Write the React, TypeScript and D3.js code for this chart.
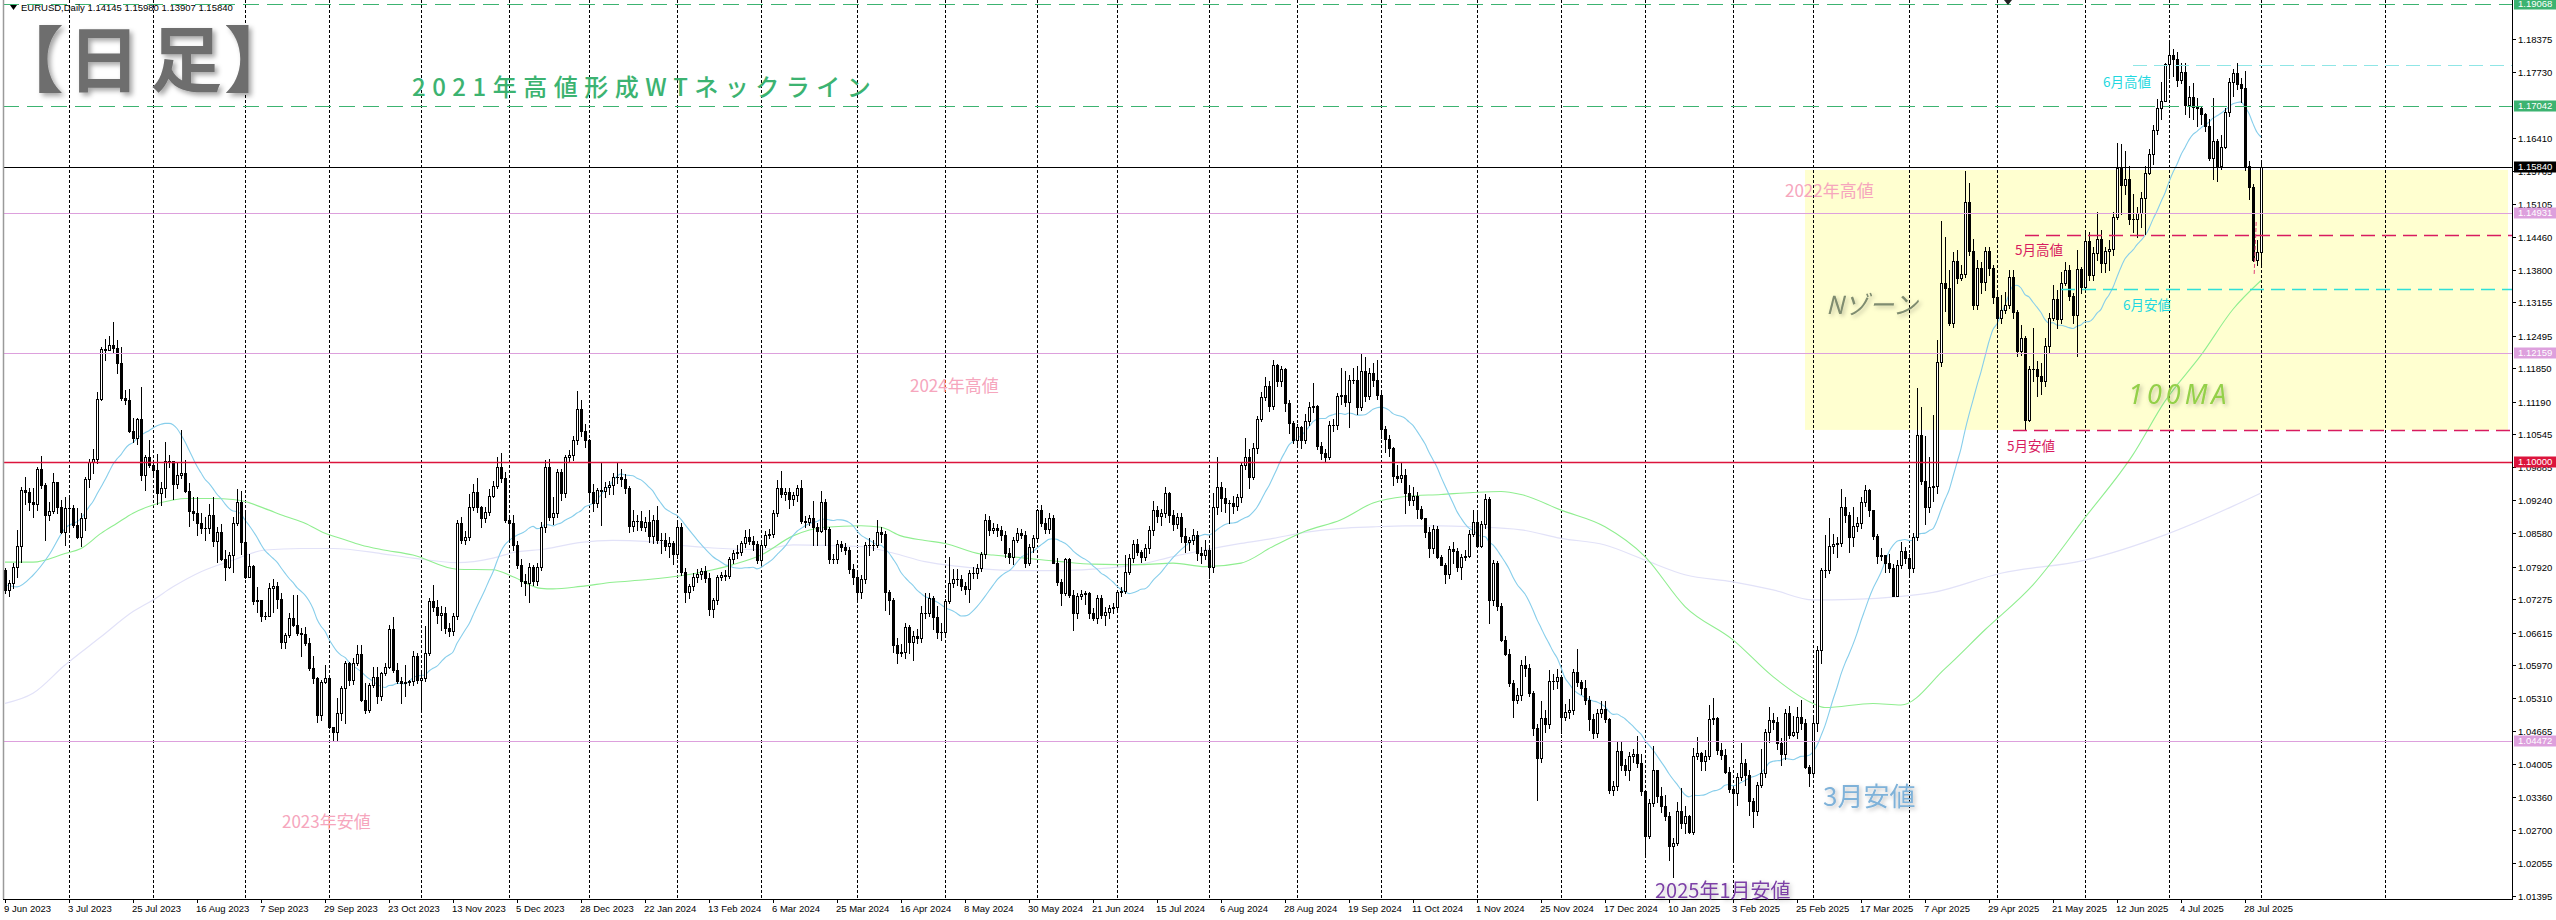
import React, { useMemo } from "react";
import * as d3 from "d3";

const W = 2556;
const H = 920;
const PLOT_L = 3;
const PLOT_R = 2512;
const PLOT_B = 899;

// Daily bars, values in pips above 1.0000 (price = 1 + v / 10000): [close, high, low]
// open of each bar = close of the previous bar
const firstOpen = 785;

const barsJun2023Oct2023 = [
  [746,789,739],[759,766,733],[792,799,749],[832,865,772],[944,950,802],[939,970,917],[921,947,904],[917,947,891],[985,990,904],[954,1012,947],
  [894,957,845],[903,921,884],[959,977,898],[911,960,898],[861,924,858],[909,931,835],[909,931,865],[875,914,871],[851,908,848],[888,898,832],
  [966,970,865],[1000,1006,950],[1006,1026,977],[1125,1138,997],[1224,1228,1122],[1222,1244,1201],[1231,1249,1221],[1226,1276,1218],[1195,1241,1175],[1127,1228,1122],
  [1123,1142,1115],[1061,1145,1059],[1047,1086,1040],[1084,1086,1036],[974,1148,964],[1010,1013,944],[993,1043,990],[983,1003,974],[937,1016,917],[947,960,914],
  [1002,1040,931],[1001,1014,990],[955,1002,927],[974,997,947],[978,1063,967],[942,1003,940],[903,957,873],[899,931,884],[878,931,855],[868,898,858],
  [868,891,845],[894,916,858],[843,931,832],[861,871,802],[807,876,805],[792,825,766],[816,822,789],[878,891,782],[921,945,875],[841,941,818],
  [772,898,769],[793,818,772],[723,795,719],[726,752,703],[694,726,685],[695,703,688],[749,759,703],[754,767,703],[727,762,710],[642,739,630],
  [657,660,630],[690,700,653],[677,736,675],[660,736,657],[658,670,614],[640,673,636],[591,650,587],[571,614,561],[498,574,485],[564,568,488],
  [571,597,561],[475,568,472],[464,475,446],[502,531,449],[551,556,488],[601,606,482],[568,603,557],[601,611,560],[618,637,597],[528,637,525],
  [507,561,502],[558,561,505],[574,594,554],[536,594,521],
];

const barsOct2023Feb2024 = [
  [581,584,528],[593,601,578],[668,677,591],[588,693,584],[565,601,561],[561,574,522],[563,597,535],[565,568,558],[615,624,558],[568,620,562],
  [571,584,508],[621,674,565],[724,729,616],[713,756,705],[697,726,680],[701,715,667],[670,712,660],[664,680,655],[695,700,657],[878,885,688],
  [844,891,838],[850,862,836],[911,935,845],[939,955,905],[910,967,900],[888,912,870],[901,910,880],[933,945,895],[952,962,930],[990,1009,948],
  [968,1017,960],[885,980,880],[878,895,840],[835,895,826],[796,842,790],[763,808,753],[759,778,735],[792,800,721],[763,795,756],[792,800,755],
  [871,880,785],[990,1003,860],[891,1005,885],[898,930,876],[979,985,890],[937,985,925],[1009,1013,930],[1013,1024,1000],[1042,1050,1003],[1104,1140,1035],
  [1060,1122,1050],[1043,1075,1030],[939,1045,925],[919,955,902],[943,948,910],[941,997,875],[949,960,930],[954,962,935],[970,978,935],[970,1000,958],
  [966,985,952],[947,975,938],[873,952,860],[883,905,862],[883,895,865],[871,903,865],[881,890,862],[852,905,840],[885,895,838],[845,912,838],
  [845,858,820],[832,858,825],[838,850,812],[817,842,798],[871,882,810],[782,879,776],[741,790,722],[753,758,730],[771,780,745],[778,788,762],
  [784,790,768],[770,793,762],[708,780,697],[726,730,693],[771,776,718],[776,782,765],[774,786,766],[807,812,770],[819,826,800],[822,835,810],
  [838,842,815],[850,865,830],[842,866,836],[836,853,825],[805,842,800],
];

const barsMar2024Jul2024 = [
  [835,840,796],[855,862,830],[857,866,848],[898,905,850],[947,963,892],[936,982,930],[940,948,925],[926,948,908],[934,940,915],[947,953,922],
  [883,964,878],[881,893,870],[888,895,875],[871,923,835],[863,878,835],[921,941,860],[866,926,835],[807,870,800],[807,818,800],[837,845,800],
  [830,842,823],[825,838,818],[787,830,780],[772,797,758],[741,785,723],[767,776,730],[835,840,760],[835,848,815],[835,845,825],[860,885,830],
  [857,870,840],[741,863,706],[725,745,698],[637,730,622],[621,650,601],[623,638,614],[672,680,612],[642,676,620],[654,665,608],[650,668,640],
  [700,715,642],[700,740,690],[730,740,695],[692,733,668],[663,714,650],[663,680,647],[723,727,655],[760,812,720],[767,787,752],[767,788,756],
  [753,776,745],[747,762,737],[780,785,722],[780,792,770],[789,798,770],[817,822,784],[885,896,810],[865,893,855],[868,878,858],[865,876,852],
  [855,872,845],[820,862,812],[812,828,800],[845,850,798],[858,868,840],[855,866,848],[800,862,792],[830,836,796],[848,855,822],[904,906,842],
  [878,914,872],[866,888,858],[888,898,858],[800,895,799],[762,810,755],[739,768,716],[807,810,735],[736,810,732],[700,745,667],[734,740,690],
  [738,745,728],[739,744,718],[700,742,690],[690,710,686],[730,735,680],[696,735,690],[703,712,676],[710,716,690],[712,720,700],[741,746,708],
  [744,752,733],[782,815,740],[809,818,778],[837,845,802],[822,846,815],
];

const barsJul2024Nov2024 = [
  [812,825,802],[829,836,805],[865,872,820],[904,922,855],[893,912,880],[898,907,875],[937,949,890],[895,940,880],[877,905,865],[890,898,868],
  [852,898,840],[840,868,822],[844,850,826],[855,866,836],[819,862,805],[815,830,800],[825,845,808],[792,835,770],[910,938,782],[949,1010,897],
  [928,960,903],[919,947,900],[918,925,878],[912,932,898],[930,936,905],[994,1000,920],[1010,1046,985],[970,1025,948],[1027,1038,965],[1084,1090,1018],
  [1129,1138,1080],[1150,1168,1122],[1110,1160,1100],[1192,1201,1105],[1159,1194,1150],[1183,1190,1149],[1117,1185,1100],[1076,1122,1057],[1043,1080,1038],[1068,1074,1035],
  [1042,1070,1027],[1081,1095,1038],[1109,1119,1073],[1110,1155,1098],[1031,1112,1026],[1018,1040,1005],[1010,1025,1002],[1073,1081,1006],[1073,1085,1060],[1130,1137,1065],
  [1132,1185,1115],[1119,1180,1110],[1161,1171,1068],[1162,1185,1155],[1109,1190,1095],[1180,1213,1102],[1130,1208,1120],[1175,1185,1125],[1162,1195,1150],[1132,1201,1125],
  [1065,1140,1046],[1044,1070,1020],[1027,1052,1012],[972,1030,954],[967,994,960],[974,998,960],[937,985,899],[924,953,915],[933,950,915],[906,940,888],
  [888,912,887],[860,888,851],[829,870,812],[867,874,820],[811,872,810],[796,815,795],[778,800,759],[827,833,769],[824,840,800],[792,828,783],
  [812,818,767],[813,826,805],[856,864,812],[881,904,853],[832,905,832],[877,882,830],[926,936,868],[725,930,681],[799,805,717],[714,803,706],
  [647,720,645],[619,655,617],[561,629,555],[528,567,495],[538,551,521],
];

const barsNov2024Mar2025 = [
  [597,607,528],[591,615,575],[541,600,535],[472,545,458],[413,480,330],[492,525,405],[481,507,465],[566,587,472],[566,580,550],[574,590,552],
  [495,578,462],[505,520,488],[508,530,492],[584,590,500],[564,628,556],[551,568,540],[527,568,520],[490,535,468],[462,500,452],[502,510,455],
  [510,525,495],[490,525,485],[350,492,343],[357,367,340],[426,446,350],[399,445,390],[389,410,380],[416,425,370],[421,430,405],[403,457,396],
  [347,420,340],[259,350,221],[323,332,255],[389,436,318],[337,390,325],[317,355,305],[298,340,290],[238,305,211],[244,255,178],[307,326,240],
  [284,353,275],[297,318,265],[267,300,264],[416,432,262],[422,455,410],[406,425,390],[416,428,389],[490,518,410],[492,531,480],[429,495,420],
  [419,442,410],[386,430,383],[351,395,345],[343,353,208],[376,383,320],[403,442,370],[380,410,360],[327,390,300],[307,333,277],[360,366,300],
  [383,430,355],[465,470,375],[488,513,445],[485,502,470],[442,495,430],[421,452,399],[502,509,410],[459,516,452],[465,497,457],[495,513,452],
  [483,528,470],[396,490,394],[383,400,358],[483,492,375],[627,634,467],[785,790,601],[785,855,772],[832,888,780],[836,856,820],[838,850,812],
  [910,945,832],[894,930,880],[851,900,821],[873,911,832],[879,890,862],[921,931,868],[944,954,912],[904,945,893],[853,905,846],[813,857,799],
  [815,828,806],[800,816,782],[789,818,782],[734,797,733],[795,805,733],
];

const barsMar2025Aug2025 = [
  [824,840,790],[809,830,800],[790,818,778],[851,858,781],[1052,1146,845],[962,1109,955],[910,1050,877],[949,1010,900],[952,1093,923],[1197,1241,938],
  [1355,1476,1190],[1345,1446,1298],[1275,1380,1271],[1397,1416,1266],[1363,1420,1355],[1372,1390,1360],[1514,1575,1365],[1417,1552,1410],[1310,1442,1302],[1384,1400,1302],
  [1356,1395,1335],[1417,1425,1340],[1384,1425,1370],[1326,1390,1315],[1285,1340,1265],[1300,1330,1275],[1311,1337,1295],[1366,1380,1305],[1296,1380,1285],[1220,1300,1210],
  [1245,1270,1212],[1083,1250,1065],[1184,1190,1080],[1184,1264,1160],[1169,1200,1130],[1160,1195,1135],[1230,1245,1150],[1285,1295,1215],[1323,1350,1280],[1283,1340,1265],
  [1355,1375,1275],[1379,1395,1350],[1328,1390,1320],[1290,1335,1275],[1381,1420,1210],[1346,1385,1335],[1438,1455,1340],[1370,1455,1360],[1414,1425,1360],[1442,1495,1400],
  [1393,1460,1375],[1417,1425,1375],[1421,1440,1380],[1485,1495,1410],[1581,1632,1480],[1548,1630,1490],[1560,1615,1530],[1480,1585,1470],[1480,1530,1455],[1493,1505,1445],
  [1523,1535,1465],[1573,1585,1452],[1609,1620,1570],[1658,1668,1590],[1700,1718,1650],[1715,1752,1680],[1787,1790,1715],[1806,1830,1760],[1798,1818,1765],[1757,1812,1745],
  [1772,1790,1750],[1707,1790,1688],[1722,1745,1682],[1703,1750,1680],[1700,1720,1665],[1688,1705,1670],[1666,1690,1655],[1601,1680,1597],[1635,1720,1560],[1586,1640,1556],
  [1624,1648,1580],[1692,1700,1622],[1753,1760,1685],[1771,1778,1725],[1749,1789,1738],[1741,1760,1712],[1586,1775,1578],[1544,1595,1520],[1400,1550,1398],[1415,1440,1390],
  [1584,1598,1391],
];

// Moving averages: [bar index, pips]
const ma20Head = [[0,756],[3,752],[7,775],[11,815],[15,868]];
const ma100 = [
  [0,801],[7,801],[15,818],[19,828],[24,858],[28,878],[32,898],[37,914],[42,924],[45,927],[52,927],[57,925],[60,921],[65,907],[70,892],[75,878],[80,858],[84,848],[89,835],[94,826],
  [102,815],[113,787],[122,786],[127,772],[134,749],[137,748],[144,753],[152,761],[160,766],[169,774],[177,786],[182,796],[189,815],[197,853],[205,870],[214,873],[219,870],[224,853],[230,844],[235,838],
  [244,817],[247,815],[255,809],[264,802],[272,797],[284,796],[292,799],[300,792],[309,799],[317,832],[325,862],[334,885],[342,918],[350,931],[359,935],[367,939],[374,941],[379,935],[389,904],[400,871],
  [410,812],[420,713],[432,647],[442,574],[452,521],[455,513],[467,521],[474,518],[485,590],[495,667],[507,756],[520,889],[532,1014],[540,1120],[549,1211],[557,1302],[564,1359],
];
const ma200 = [
  [0,521],[7,541],[15,597],[24,653],[32,703],[37,726],[42,752],[49,782],[57,805],[65,825],[74,828],[82,828],[94,818],[102,809],[113,800],[122,809],[127,820],[135,827],[144,840],[152,844],
  [160,842],[169,834],[177,829],[189,826],[197,835],[214,832],[222,819],[230,802],[239,792],[247,786],[255,784],[264,784],[272,787],[284,797],[292,812],[300,825],[309,838],[317,848],[325,860],[334,868],
  [342,871],[350,873],[359,873],[367,871],[379,865],[389,848],[400,835],[410,805],[420,776],[432,762],[442,746],[452,726],[462,727],[474,733],[482,741],[499,779],[520,805],[540,855],[557,912],[564,938],
];

const priceTicks = [1.18375,1.1773,1.1641,1.15765,1.15105,1.1446,1.138,1.13155,1.12495,1.1185,1.1119,1.10545,1.09885,1.0924,1.0858,1.0792,1.07275,1.06615,1.0597,1.0531,1.04665,1.04005,1.0336,1.027,1.02055,1.01395];

const dateLabels = ["9 Jun 2023","3 Jul 2023","25 Jul 2023","16 Aug 2023","7 Sep 2023","29 Sep 2023","23 Oct 2023","13 Nov 2023","5 Dec 2023","28 Dec 2023","22 Jan 2024","13 Feb 2024","6 Mar 2024","25 Mar 2024","16 Apr 2024","8 May 2024","30 May 2024","21 Jun 2024","15 Jul 2024","6 Aug 2024","28 Aug 2024","19 Sep 2024","11 Oct 2024","1 Nov 2024","25 Nov 2024","17 Dec 2024","10 Jan 2025","3 Feb 2025","25 Feb 2025","17 Mar 2025","7 Apr 2025","29 Apr 2025","21 May 2025","12 Jun 2025","4 Jul 2025","28 Jul 2025"];
const dateLabelEvery = 16;

// first bar of each month (vertical separators)
const monthStartBars = [16,37,60,81,104,126,146,168,189,213,235,258,278,301,323,344,368,389,410,432,452,476,498,520,541,564,595];

const fullLines = [
  { v: 1.19068, color: "#3cb371", dash: "16,8", w: 1 },
  { v: 1.17042, color: "#3cb371", dash: "16,8", w: 1 },
  { v: 1.1584, color: "#000000", dash: null, w: 1 },
  { v: 1.14931, color: "#dda0dd", dash: null, w: 1 },
  { v: 1.12159, color: "#dda0dd", dash: null, w: 1 },
  { v: 1.1, color: "#dc143c", dash: null, w: 1.4 },
  { v: 1.04472, color: "#dda0dd", dash: null, w: 1 },
];

const partialLines = [
  { v: 1.17865, from: 532, to: 628, color: "#8fe6e6", dash: "14,7", w: 1 },
  { v: 1.145, from: 505, to: 628, color: "#d81b60", dash: "14,7", w: 1.3 },
  { v: 1.1342, from: 514, to: 628, color: "#2ee0d8", dash: "14,7", w: 1.3 },
  { v: 1.1063, from: 502, to: 628, color: "#d81b60", dash: "14,7", w: 1.3 },
  { v: 1.0383, from: 448, to: 628, color: "#add3ea", dash: "10,4", w: 3.5 },
  { v: 1.0178, from: 416, to: 623.5, color: "#c3aede", dash: "3,2", w: 4 },
];

const priceBoxes = [
  { v: 1.19068, color: "#3cb371" },
  { v: 1.17042, color: "#3cb371" },
  { v: 1.1584, color: "#000000" },
  { v: 1.14931, color: "#dda0dd" },
  { v: 1.12159, color: "#dda0dd" },
  { v: 1.1, color: "#dc143c" },
  { v: 1.04472, color: "#dda0dd" },
];

const zone = { from: 450, to: 628, top: 1.1578, bottom: 1.1063 };

export default function App() {
  const x = d3.scaleLinear().domain([0, 1]).range([5, 9]);
  const y = d3.scaleLinear().domain([1.01335, 1.19148]).range([PLOT_B, 0]);
  const pp = (v: number) => 1 + v / 10000;

  const bars = useMemo(() => {
    const all = [
      ...barsJun2023Oct2023,
      ...barsOct2023Feb2024,
      ...barsMar2024Jul2024,
      ...barsJul2024Nov2024,
      ...barsNov2024Mar2025,
      ...barsMar2025Aug2025,
    ];
    return all.map((b, i) => {
      const o = i === 0 ? firstOpen : all[i - 1][0];
      return { i, o: pp(o), c: pp(b[0]), h: pp(b[1]), l: pp(b[2]) };
    });
  }, []);

  const ma20 = useMemo(() => {
    const pts: [number, number][] = ma20Head.map((d) => [d[0], pp(d[1])]);
    for (let i = 19; i < bars.length; i++) {
      let s = 0;
      for (let k = i - 19; k <= i; k++) s += bars[k].c;
      pts.push([i, s / 20]);
    }
    return pts;
  }, [bars]);

  const lineGen = d3
    .line<[number, number]>()
    .x((d) => x(d[0]))
    .y((d) => y(d[1]))
    .curve(d3.curveMonotoneX);

  const ma100Path = lineGen(ma100.map((d) => [d[0], pp(d[1])] as [number, number])) || "";
  const ma200Path = lineGen(ma200.map((d) => [d[0], pp(d[1])] as [number, number])) || "";
  const ma20Path = lineGen(ma20) || "";

  const fmt = (v: number) => v.toFixed(5);
  const jp = "'Noto Sans CJK JP', 'Noto Sans', sans-serif";

  return (
    <div style={{ position: "fixed", left: 0, top: 0, width: W, height: H, background: "#fff" }}>
      <svg width={W} height={H} style={{ display: "block" }} fontFamily="'Liberation Sans', Arial, sans-serif">
        <defs>
          <filter id="shadow" x="-20%" y="-30%" width="150%" height="170%">
            <feDropShadow dx="3" dy="3" stdDeviation="2.5" floodColor="#000" floodOpacity="0.35" />
          </filter>
          <filter id="shadowSoft" x="-20%" y="-30%" width="150%" height="170%">
            <feDropShadow dx="2" dy="2" stdDeviation="2" floodColor="#000" floodOpacity="0.25" />
          </filter>
          <filter id="blurLine" x="-5%" y="-200%" width="110%" height="500%">
            <feGaussianBlur stdDeviation="0.9" />
          </filter>
          <clipPath id="plotClip">
            <rect x={PLOT_L} y={0} width={PLOT_R - PLOT_L} height={PLOT_B} />
          </clipPath>
        </defs>

        <g clipPath="url(#plotClip)">
          {/* zone */}
          <rect
            x={x(zone.from)}
            y={y(zone.top)}
            width={Math.min(x(zone.to), PLOT_R - 4) - x(zone.from)}
            height={y(zone.bottom) - y(zone.top)}
            fill="#ffffd0"
          />

          {/* month separators */}
          {monthStartBars.map((b) => (
            <line key={"g" + b} x1={x(b) + 0.5} x2={x(b) + 0.5} y1={0} y2={PLOT_B} stroke="#000" strokeWidth={1} strokeDasharray="3,2" />
          ))}

          {/* moving averages */}
          <path d={ma200Path} fill="none" stroke="#e2e2f8" strokeWidth={1.2} />
          <path d={ma100Path} fill="none" stroke="#90ee90" strokeWidth={1.1} />
          <path d={ma20Path} fill="none" stroke="#87ceeb" strokeWidth={1.1} />

          {/* candles */}
          {bars.map((b) => {
            const cx = Math.round(x(b.i));
            const top = Math.round(y(Math.max(b.o, b.c)));
            const bot = Math.round(y(Math.min(b.o, b.c)));
            const yh = Math.round(y(Math.max(b.h, b.o, b.c)));
            const yl = Math.round(y(Math.min(b.l, b.o, b.c)));
            const up = b.c >= b.o;
            const els = [];
            if (yh < top) els.push(<line key="h" x1={cx + 0.5} x2={cx + 0.5} y1={yh} y2={top} stroke="#000" strokeWidth={1} />);
            if (yl > bot) els.push(<line key="l" x1={cx + 0.5} x2={cx + 0.5} y1={bot} y2={yl + 1} stroke="#000" strokeWidth={1} />);
            if (bot - top < 1) {
              els.push(<line key="d" x1={cx - 1} x2={cx + 2} y1={top + 0.5} y2={top + 0.5} stroke="#000" strokeWidth={1} />);
            } else if (up) {
              els.push(<rect key="b" x={cx - 0.5} y={top + 0.5} width={2} height={bot - top} fill="#fff" stroke="#000" strokeWidth={1} />);
            } else {
              els.push(<rect key="b" x={cx - 1} y={top} width={3} height={bot - top + 1} fill="#000" />);
            }
            return <g key={"c" + b.i}>{els}</g>;
          })}

          {/* horizontal levels */}
          {fullLines.map((l) => (
            <line
              key={"fl" + l.v}
              x1={PLOT_L}
              x2={PLOT_R}
              y1={Math.round(y(l.v)) + 0.5}
              y2={Math.round(y(l.v)) + 0.5}
              stroke={l.color}
              strokeWidth={l.w}
              strokeDasharray={l.dash || undefined}
            />
          ))}
          {partialLines.map((l) => (
            <line
              key={"pl" + l.v}
              x1={x(l.from)}
              x2={Math.min(x(l.to), PLOT_R)}
              y1={Math.round(y(l.v)) + 0.5}
              y2={Math.round(y(l.v)) + 0.5}
              stroke={l.color}
              strokeWidth={l.w}
              strokeDasharray={l.dash}
              filter={l.w > 3 ? "url(#blurLine)" : undefined}
            />
          ))}
          <line x1={x(562.8)} x2={x(562.3)} y1={y(1.1475)} y2={y(1.1372)} stroke="#e0407a" strokeWidth={1} strokeDasharray="4,2" />

          {/* annotations */}
          <text x={412} y={96} fontFamily={jp} fontSize={24} fontWeight={500} letterSpacing={6.5} fill="#3cb371">2021年高値形成WTネックライン</text>
          <text x={2103} y={87} fontFamily={jp} fontSize={13.5} fill="#1fd8e0">6月高値</text>
          <text x={1785} y={197} fontFamily={jp} fontSize={17} fill="#f6a6bd">2022年高値</text>
          <text x={2015} y={255} fontFamily={jp} fontSize={13.5} fill="#d81b60">5月高値</text>
          <text x={1826} y={314} fontFamily={jp} fontSize={25} fontStyle="italic" fill="#7f8c70" filter="url(#shadowSoft)">Nゾーン</text>
          <text x={2123} y={310} fontFamily={jp} fontSize={13.5} fill="#1fd8e0">6月安値</text>
          <text x={910} y={392} fontFamily={jp} fontSize={17} fill="#f6a6bd">2024年高値</text>
          <text x={2128} y={404} fontFamily="'Noto Sans', sans-serif" fontSize={27} fontStyle="italic" letterSpacing={4} fill="#94d04a" filter="url(#shadowSoft)">100MA</text>
          <text x={2007} y={451} fontFamily={jp} fontSize={13.5} fill="#d81b60">5月安値</text>
          <text x={282} y={828} fontFamily={jp} fontSize={17} fill="#f6a6bd">2023年安値</text>
          <text x={1823} y={806} fontFamily={jp} fontSize={26} fill="#7fb2d9" filter="url(#shadowSoft)">3月安値</text>
        </g>

        {/* big title */}
        <g fontFamily={jp} fontSize={72} fontWeight={700} fill="#6e6e6e" filter="url(#shadow)">
          <text x={26} y={86} style={{ fontFeatureSettings: '"palt"' }}>【</text>
          <text x={104} y={86} textAnchor="middle">日</text>
          <text x={186} y={86} textAnchor="middle">足</text>
          <text x={260} y={86} textAnchor="middle">】</text>
        </g>

        {/* frame */}
        <line x1={3.5} x2={3.5} y1={0} y2={PLOT_B} stroke="#9a9a9a" strokeWidth={1.5} />
        <line x1={PLOT_L} x2={PLOT_R} y1={PLOT_B + 0.5} y2={PLOT_B + 0.5} stroke="#000" strokeWidth={1} />
        <line x1={PLOT_R + 0.5} x2={PLOT_R + 0.5} y1={0} y2={PLOT_B + 1} stroke="#000" strokeWidth={1} />
        <path d="M2004,0 L2012,0 L2008,5 Z" fill="#222" />

        {/* price axis */}
        {priceTicks.map((t) => {
          const ty = Math.round(y(t)) + 0.5;
          return (
            <g key={"t" + t}>
              <line x1={PLOT_R} x2={PLOT_R + 4} y1={ty} y2={ty} stroke="#000" />
              <text x={PLOT_R + 6} y={ty} dy="0.35em" fontSize={9.5} fill="#000">{fmt(t)}</text>
            </g>
          );
        })}
        {priceBoxes.map((b) => {
          const by = Math.round(y(b.v));
          return (
            <g key={"pb" + b.v}>
              <rect x={PLOT_R + 2} y={by - 5.5} width={W - PLOT_R - 2} height={11} fill={b.color} />
              <text x={PLOT_R + 6} y={by} dy="0.36em" fontSize={9.5} fill="#fff">{fmt(b.v)}</text>
            </g>
          );
        })}

        {/* time axis */}
        {dateLabels.map((d, k) => {
          const bx = x(k * dateLabelEvery);
          return (
            <g key={"d" + k}>
              <line x1={Math.round(bx) + 0.5} x2={Math.round(bx) + 0.5} y1={PLOT_B} y2={PLOT_B + 4} stroke="#000" />
              <text x={bx - 1} y={912} fontSize={9.5} fill="#000">{d}</text>
            </g>
          );
        })}

        {/* 2025 Jan low label overlapping axis */}
        <text x={1655} y={898} fontFamily={jp} fontSize={20} fill="#7b3fa6" filter="url(#shadowSoft)">2025年1月安値</text>

        {/* header */}
        <path d="M10,5 L17,5 L13.5,10 Z" fill="#000" />
        <text x={21} y={11} fontSize={9.5} fill="#000">EURUSD,Daily  1.14145 1.15980 1.13907 1.15840</text>
      </svg>
    </div>
  );
}
